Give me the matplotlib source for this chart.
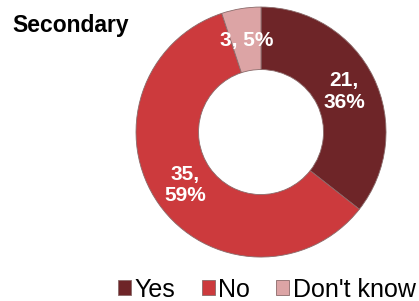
import numpy as np
import matplotlib.pyplot as plt

labels = ["Yes", "No", "Don't know"]
counts = [21, 35, 3]
colors = ["#6e2528", "#cc3a3d", "#dca4a5"]

plt.rcParams['font.family'] = ['Liberation Sans', 'DejaVu Sans']

fig = plt.figure(figsize=(4.19, 3.01), dpi=100)
ax = fig.add_axes([0.3246, 0.146, 0.5967, 0.8306])

wedges, _ = ax.pie(counts, colors=colors, startangle=90, counterclock=False,
                   radius=1.0, wedgeprops=dict(width=0.5, edgecolor="#8a6a6a", linewidth=0.6))
ax.set_xlim(-1, 1)
ax.set_ylim(-1, 1)
ax.set_aspect('equal')

# data labels "n, pct%" in the middle of each ring segment
total = sum(counts)
for w, n in zip(wedges, counts):
    ang = np.deg2rad((w.theta1 + w.theta2) / 2)
    pct = round(100 * n / total)
    txt = "%d, %d%%" % (n, pct) if n < 5 else "%d,\n%d%%" % (n, pct)
    ax.text(0.74 * np.cos(ang), 0.74 * np.sin(ang), txt, ha='center', va='center',
            color='white', fontsize=15, fontweight='bold', linespacing=1.15)

fig.text(0.03, 0.894, "Secondary", fontsize=16.5, fontweight='bold', ha='left', va='baseline')

fig.legend(wedges, labels, loc='center', bbox_to_anchor=(0.637, 0.038), ncol=3,
           frameon=False, fontsize=18, handlelength=0.52, handleheight=0.52,
           handletextpad=0.15, columnspacing=1.05, borderaxespad=0, borderpad=0)

plt.savefig("out.png", dpi=100)
